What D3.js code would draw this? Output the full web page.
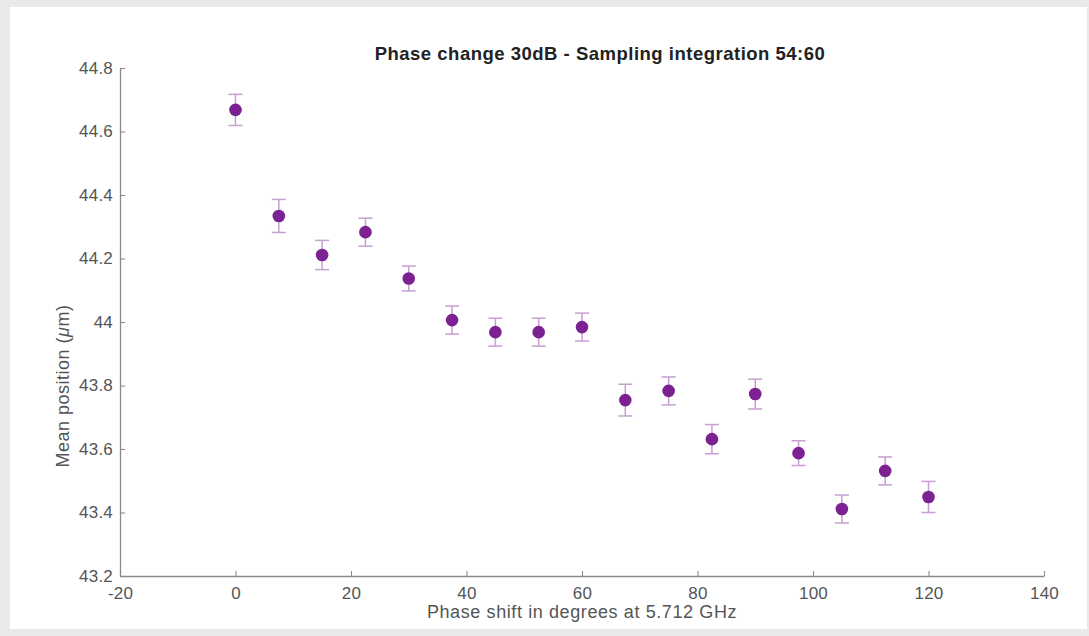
<!DOCTYPE html>
<html>
<head>
<meta charset="utf-8">
<script src="https://cdn.jsdelivr.net/npm/d3@7"></script>
<style>
  body { margin: 0; background: #e9e9e9; }
  svg { display: block; }
  text { font-family: "Liberation Sans", Arial, Helvetica, sans-serif; }
</style>
</head>
<body>
<script>
var phaseShift = [0, 7.5, 15, 22.5, 30, 37.5, 45, 52.5, 60, 67.5, 75, 82.5, 90, 97.5, 105, 112.5, 120];
var meanPosition = [44.668, 44.334, 44.211, 44.283, 44.137, 44.006, 43.968, 43.968, 43.984, 43.754, 43.783, 43.631, 43.773, 43.587, 43.411, 43.531, 43.449];
var errorSize = [0.049, 0.052, 0.046, 0.044, 0.039, 0.044, 0.044, 0.044, 0.044, 0.05, 0.044, 0.046, 0.047, 0.039, 0.044, 0.044, 0.049];
var xTicks = [-20, 0, 20, 40, 60, 80, 100, 120, 140];
var yTicks = [43.2, 43.4, 43.6, 43.8, 44, 44.2, 44.4, 44.6, 44.8];

var w = 1089;
var h = 636;
var plotLeft = 120, plotRight = 1044, plotTop = 68, plotBottom = 576;
var axisColor = "#8a8a8a";
var markerColor = "#7b2191";
var barColor = "#c79fd2";

var svg = d3.select("body")
    .append("svg")
    .attr("width", w)
    .attr("height", h);

// white panel on grey page
svg.append("rect")
    .attr("x", 10)
    .attr("y", 7)
    .attr("width", 1077)
    .attr("height", 622)
    .attr("fill", "#ffffff");

var x = d3.scaleLinear().domain([-20, 140]).range([plotLeft, plotRight]);
var y = d3.scaleLinear().domain([43.2, 44.8]).range([plotBottom, plotTop]);

var xAxis = svg.append("g")
    .attr("transform", "translate(0," + plotBottom + ")")
    .call(d3.axisBottom(x).tickValues(xTicks).tickSizeInner(-5).tickSizeOuter(0).tickPadding(11).tickFormat((d) => { return String(d) }));

var yAxis = svg.append("g")
    .attr("transform", "translate(" + plotLeft + ",0)")
    .call(d3.axisLeft(y).tickValues(yTicks).tickSizeInner(-5).tickSizeOuter(0).tickPadding(7).tickFormat((d) => { return String(+d.toFixed(1)) }));

[xAxis, yAxis].forEach((g) => {
    g.select(".domain").attr("stroke", axisColor).attr("stroke-width", 1.3);
    g.selectAll(".tick line").attr("stroke", axisColor).attr("stroke-width", 1.1);
    g.selectAll(".tick text")
        .attr("fill", "#555")
        .style("font-size", "17px")
        .style("letter-spacing", "0.2px");
});

// error bars
var bars = svg.append("g")
    .attr("stroke", barColor)
    .attr("stroke-width", 1.5)
    .attr("fill", "none");

phaseShift.forEach((d, i) => {
    var cx = x(d);
    var y1 = y(meanPosition[i] + errorSize[i]);
    var y2 = y(meanPosition[i] - errorSize[i]);
    bars.append("line").attr("x1", cx).attr("x2", cx).attr("y1", y1).attr("y2", y2);
    bars.append("line").attr("x1", cx - 7).attr("x2", cx + 7).attr("y1", y1).attr("y2", y1);
    bars.append("line").attr("x1", cx - 7).attr("x2", cx + 7).attr("y1", y2).attr("y2", y2);
});

svg.append("g")
    .selectAll("circle")
    .data(phaseShift)
    .enter()
    .append("circle")
    .attr("cx", (d) => { return x(d) })
    .attr("cy", (d, i) => { return y(meanPosition[i]) })
    .attr("r", 6.3)
    .attr("fill", markerColor);

svg.append("text")
    .attr("x", 600)
    .attr("y", 60)
    .attr("text-anchor", "middle")
    .attr("fill", "#222")
    .style("font-size", "18.5px")
    .style("font-weight", "bold")
    .style("letter-spacing", "0.5px")
    .text("Phase change 30dB - Sampling integration 54:60");

svg.append("text")
    .attr("x", (plotLeft + plotRight) / 2)
    .attr("y", 618)
    .attr("text-anchor", "middle")
    .attr("fill", "#555")
    .style("font-size", "18px")
    .style("letter-spacing", "0.6px")
    .text("Phase shift in degrees at 5.712 GHz");

svg.append("text")
    .attr("transform", "translate(69,386) rotate(-90)")
    .attr("text-anchor", "middle")
    .attr("fill", "#555")
    .style("font-size", "18px")
    .style("letter-spacing", "0.5px")
    .html("Mean position (<tspan font-style='italic'>&#956;</tspan>m)");
</script>
</body>
</html>
